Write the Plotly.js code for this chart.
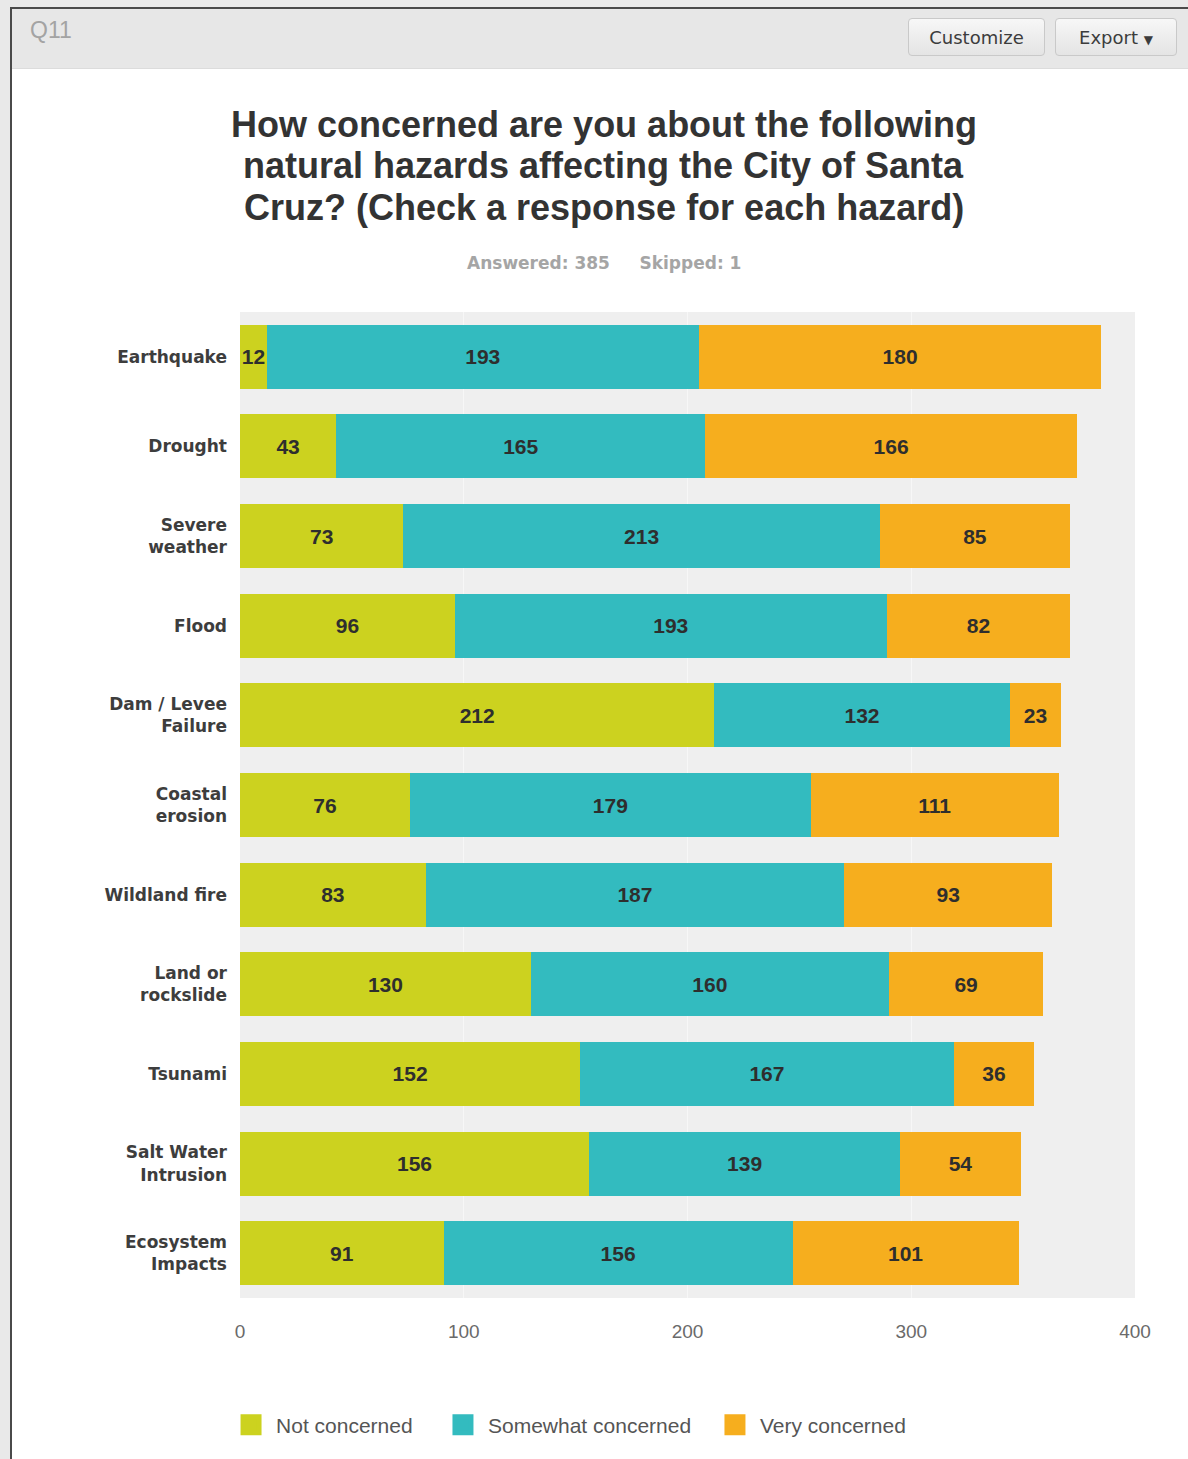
<!DOCTYPE html>
<html>
<head>
<meta charset="utf-8">
<script src="https://cdn.plot.ly/plotly-3.0.1.min.js"></script>
<style>
  html, body { margin: 0; padding: 0; background: #e9e9e9; }
  #page { position: relative; width: 1188px; height: 1459px; overflow: hidden; background: #e9e9e9; }
  #frame { position: absolute; left: 10px; top: 7px; width: 1190px; height: 1460px;
           border-left: 2px solid #4a4a4a; border-top: 2px solid #4a4a4a; background: #ffffff; }
  #header { position: absolute; left: 12px; top: 9px; width: 1176px; height: 59px;
            background: #e7e7e7; border-bottom: 1px solid #dcdcdc; }
  #q { position: absolute; left: 18px; top: 8px; font-family: "Liberation Sans", Arial, sans-serif;
       font-size: 23px; color: #a3a3a3; }
  .btn { position: absolute; top: 9px; height: 38px; border: 1px solid #c9c9c9; border-radius: 4px;
         background: linear-gradient(#f7f7f7, #e4e4e4); font-family: "DejaVu Sans", sans-serif;
         font-size: 18px; color: #3c3c3c; line-height: 38px; text-align: center; box-sizing: border-box; }
  #cust { left: 896px; width: 137px; }
  #exp { left: 1043px; width: 122px; }
  #chart { position: absolute; left: 12px; top: 70px; width: 1176px; height: 1389px; }
</style>
</head>
<body>
<div id="page">
  <div id="frame"></div>
  <div id="header">
    <div id="q">Q11</div>
    <div class="btn" id="cust">Customize</div>
    <div class="btn" id="exp">Export <span style="font-size:12px;">&#9660;</span></div>
  </div>
  <div id="chart"></div>
</div>
<script>
const categories = ["Earthquake", "Drought", "Severe<br>weather", "Flood", "Dam / Levee<br>Failure",
  "Coastal<br>erosion", "Wildland fire", "Land or<br>rockslide", "Tsunami", "Salt Water<br>Intrusion",
  "Ecosystem<br>Impacts"];
const notConcerned = [12, 43, 73, 96, 212, 76, 83, 130, 152, 156, 91];
const somewhatConcerned = [193, 165, 213, 193, 132, 179, 187, 160, 167, 139, 156];
const veryConcerned = [180, 166, 85, 82, 23, 111, 93, 69, 36, 54, 101];
const seriesNames = ["Not concerned", "Somewhat concerned", "Very concerned"];
const seriesColors = ["#ccd21f", "#33bbbf", "#f6ae1e"];
const xTicks = [0, 100, 200, 300, 400];
const titleLines = ["How concerned are you about the following",
  "natural hazards affecting the City of Santa",
  "Cruz? (Check a response for each hazard)"];
const subtitle = "Answered: 385&nbsp;&nbsp;&nbsp;&nbsp;&nbsp;Skipped: 1";

const seriesValues = [notConcerned, somewhatConcerned, veryConcerned];
const legendIds = ["legend", "legend2", "legend3"];
const legendX = [-0.0156, 0.2212, 0.5251];

const barTraces = seriesValues.map((vals, i) => ({
  type: "bar",
  orientation: "h",
  y: categories,
  x: vals,
  name: seriesNames[i],
  marker: { color: seriesColors[i] },
  text: vals.map(String),
  textposition: "inside",
  insidetextanchor: "middle",
  textangle: 0,
  constraintext: "none",
  textfont: { family: "Liberation Sans, Arial, sans-serif", size: 21, color: "#2e2e2e", weight: "bold" },
  showlegend: false,
  hoverinfo: "x+name"
}));

// legend-only entries (no data points) so the legend swatches can be larger squares
const legendTraces = seriesNames.map((n, i) => ({
  type: "scatter", mode: "markers", x: [null], y: [null], name: n,
  legend: legendIds[i], showlegend: true, hoverinfo: "skip",
  marker: { symbol: "square", size: 16, color: seriesColors[i], line: { color: seriesColors[i], width: 5 } }
}));

const titleY = [1.1897, 1.1481, 1.1055];
const annotations = titleLines.map((t, i) => ({
  text: "<b>" + t + "</b>",
  xref: "paper", yref: "paper", x: 0.4067, y: titleY[i],
  xanchor: "center", yanchor: "middle", showarrow: false,
  font: { family: "Liberation Sans, Arial, sans-serif", size: 36, color: "#333333" }
}));
annotations.push({
  text: "<b>" + subtitle + "</b>",
  xref: "paper", yref: "paper", x: 0.4067, y: 1.0497,
  xanchor: "center", yanchor: "middle", showarrow: false,
  font: { family: "DejaVu Sans, sans-serif", size: 17, color: "#a5a5a5" }
});

const legendBase = {
  orientation: "h", xanchor: "left", y: -0.1288, yanchor: "middle", itemwidth: 40,
  font: { family: "Liberation Sans, Arial, sans-serif", size: 21, color: "#555555" },
  itemclick: false, itemdoubleclick: false, bgcolor: "rgba(0,0,0,0)"
};

const layout = {
  width: 1176, height: 1389,
  margin: { l: 228, r: 53, t: 242, b: 161, pad: 0 },
  paper_bgcolor: "rgba(0,0,0,0)",
  plot_bgcolor: "#efefef",
  barmode: "stack",
  bargap: 0.286,
  showlegend: true,
  legend: Object.assign({}, legendBase, { x: legendX[0] }),
  legend2: Object.assign({}, legendBase, { x: legendX[1] }),
  legend3: Object.assign({}, legendBase, { x: legendX[2] }),
  xaxis: {
    range: [0, 400], tickvals: xTicks, ticktext: xTicks.map(String),
    showgrid: true, gridcolor: "#f7f7f7", gridwidth: 1, zeroline: false,
    showline: false, ticks: "", ticklabelstandoff: 20,
    tickfont: { family: "Liberation Sans, Arial, sans-serif", size: 19, color: "#6a6a6a" },
    fixedrange: true
  },
  yaxis: {
    autorange: "reversed", showgrid: false, zeroline: false, showline: false,
    ticks: "", ticklabelstandoff: 12,
    tickfont: { family: "DejaVu Sans, sans-serif", size: 17, color: "#3d3d3d", weight: "bold" },
    fixedrange: true
  },
  annotations: annotations
};

Plotly.newPlot("chart", barTraces.concat(legendTraces), layout, { displayModeBar: false, staticPlot: true });
</script>
</body>
</html>
